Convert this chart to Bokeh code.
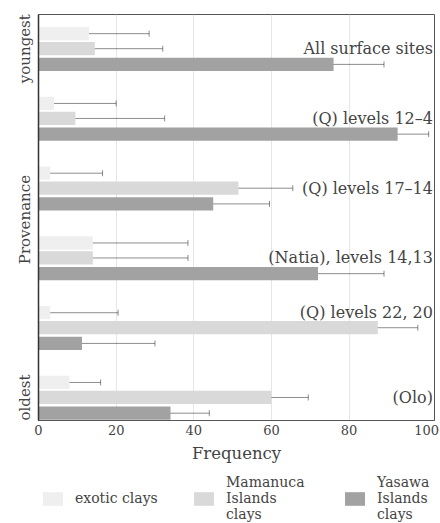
from bokeh.plotting import figure
from bokeh.layouts import column
from bokeh.models import (Range1d, ColumnDataSource, Whisker, TeeHead, Legend,
                          LegendItem, FixedTicker)
from bokeh.core.properties import value
from bokeh.embed import file_html
from bokeh.resources import INLINE

# ---- data ----
groups = ["All surface sites", "(Q) levels 12\u20134", "(Q) levels 17\u201314",
          "(Natia), levels 14,13", "(Q) levels 22, 20", "(Olo)"]
exotic = [13, 4, 3, 14, 3, 8]
exotic_lo = [4, 0, 2, 4, 0, 4]
exotic_hi = [28.5, 20, 16.5, 38.5, 20.5, 16]
mamanuca = [14.5, 9.5, 51.5, 14, 87.4, 60]
mamanuca_lo = [5, 2, 38.5, 4, 68, 50]
mamanuca_hi = [32, 32.5, 65.5, 38.5, 97.7, 69.5]
yasawa = [76, 92.5, 45, 72, 11.2, 34]
yasawa_lo = [57.5, 69.5, 31.5, 44.5, 3, 25.5]
yasawa_hi = [89, 100.5, 59.5, 89, 30, 44]
series_names = ["exotic clays", "Mamanuca\nIslands\nclays", "Yasawa\nIslands\nclays"]
label_row = ["Mamanuca", "Mamanuca", "Mamanuca", "Mamanuca", "exotic", "Mamanuca"]
x_ticks = [0, 20, 40, 60, 80, 100]
y_ticks = [0, 2.45, 5]
y_tick_labels = ["youngest", "Provenance", "oldest"]

FONT = "DejaVu Serif"
TXT = "#444444"
colors = {"exotic": "#efefef", "Mamanuca": "#d9d9d9", "Yasawa": "#a2a2a2"}
offsets = {"exotic": -0.215, "Mamanuca": 0.0, "Yasawa": 0.225}

p = figure(width=440, height=472, output_backend="svg", toolbar_location=None,
           x_range=Range1d(0, 102), y_range=Range1d(5.33, -0.49),
           min_border_left=38, min_border_right=6, min_border_top=14,
           min_border_bottom=52)
p.background_fill_color = "white"
p.border_fill_color = "white"
p.outline_line_color = "#555555"
p.outline_line_width = 1

p.ygrid.grid_line_color = None
p.xgrid.grid_line_color = "#e6e6e6"
p.xgrid.ticker = FixedTicker(ticks=[20, 40, 60, 80])

series = [("exotic", exotic, exotic_lo, exotic_hi),
          ("Mamanuca", mamanuca, mamanuca_lo, mamanuca_hi),
          ("Yasawa", yasawa, yasawa_lo, yasawa_hi)]

for key, vals, lo, hi in series:
    ys = [i + offsets[key] for i in range(len(groups))]
    src = ColumnDataSource(dict(y=ys, right=vals, lo=lo, hi=hi))
    p.hbar(y="y", right="right", left=0, height=0.19, source=src,
           fill_color=colors[key], line_color=None)
    w = Whisker(base="y", lower="lo", upper="hi", dimension="width", source=src,
                line_color="black", line_alpha=0.45, line_width=1,
                lower_head=TeeHead(size=6, line_color="black", line_alpha=0.45),
                upper_head=TeeHead(size=6, line_color="black", line_alpha=0.45))
    p.add_layout(w)

# group labels
lab_src = ColumnDataSource(dict(
    x=[101.6] * len(groups),
    y=[i + offsets[label_row[i]] for i in range(len(groups))],
    t=groups))
p.text(x="x", y="y", text="t", source=lab_src, text_align="right",
       text_baseline="middle", text_font=value(FONT), text_font_size="16px",
       text_color=TXT)

# axes
p.xaxis.ticker = FixedTicker(ticks=x_ticks)
p.xaxis.axis_label = "Frequency"
p.xaxis.axis_label_text_font = FONT
p.xaxis.axis_label_text_font_style = "normal"
p.xaxis.axis_label_text_font_size = "16.5px"
p.xaxis.axis_label_text_color = TXT
p.xaxis.axis_label_standoff = 6
p.xaxis.major_label_text_font = FONT
p.xaxis.major_label_text_font_size = "13px"
p.xaxis.major_label_text_color = TXT
p.xaxis.major_label_standoff = 4
p.xaxis.major_tick_out = 0
p.xaxis.major_tick_in = 0
p.xaxis.minor_tick_out = 0
p.xaxis.minor_tick_in = 0
p.xaxis.axis_line_color = "#555555"

p.yaxis.ticker = FixedTicker(ticks=y_ticks)
p.yaxis.major_label_overrides = dict(zip(y_ticks, y_tick_labels))
p.yaxis.major_label_orientation = "vertical"
p.yaxis.major_label_text_font = FONT
p.yaxis.major_label_text_font_size = "15px"
p.yaxis.major_label_text_color = TXT
p.yaxis.major_label_standoff = 4
p.yaxis.major_tick_out = 0
p.yaxis.major_tick_in = 0
p.yaxis.minor_tick_out = 0
p.yaxis.minor_tick_in = 0
p.yaxis.axis_line_color = "#333333"
p.yaxis.axis_line_width = 1.5

# legend in its own small figure below
lg = figure(width=440, height=51, output_backend="svg", toolbar_location=None,
            x_range=Range1d(0, 1), y_range=Range1d(0, 1),
            min_border_left=38, min_border_right=0, min_border_top=0,
            min_border_bottom=0)
lg.axis.visible = False
lg.grid.visible = False
lg.outline_line_color = None
lg.background_fill_color = "white"
lg.border_fill_color = "white"
items = []
for (key, _, _, _), name in zip(series, series_names):
    # a single off-screen bar so that the legend swatch is drawn
    r = lg.hbar(y=[-5], right=[1], left=0, height=0.1,
                fill_color=colors[key], line_color=None)
    items.append(LegendItem(label=name, renderers=[r]))
legend = Legend(items=items, orientation="horizontal", location="top_left",
                border_line_color=None, background_fill_alpha=0,
                glyph_width=25, glyph_height=17, label_standoff=10,
                label_width=106, spacing=10, padding=0, margin=2,
                label_text_font=FONT, label_text_font_size="14px",
                label_text_color=TXT, label_text_line_height=1.05)
lg.add_layout(legend, "center")

layout = column(p, lg, spacing=0)
open("out.html", "w").write(file_html(layout, INLINE))
